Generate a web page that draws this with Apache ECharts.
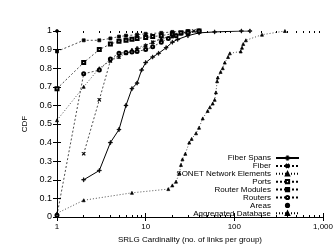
<!DOCTYPE html>
<html><head><meta charset="utf-8">
<script src="https://cdn.jsdelivr.net/npm/echarts@6/dist/echarts.min.js"></script>
<style>html,body{margin:0;padding:0;background:#fff}#c{width:333px;height:244px}</style>
</head><body><div id="c"></div>
<script>
// ---- data (x = SRLG cardinality, y = CDF) ----
const fiberSpans = [[2,0.20],[3,0.25],[4,0.40],[5,0.47],[6,0.60],[7,0.69],[8,0.72],[9,0.79],[10,0.83],[12,0.86],[14,0.88],[17,0.91],[20,0.94],[23,0.955],[30,0.975],[40,0.99],[60,0.995],[120,1.0],[150,1.0]];
const fiber = [[2,0.34],[3,0.63],[4,0.84],[5,0.87],[6,0.88],[8,0.90],[10,0.92],[12,0.94],[15,0.96],[20,0.975],[25,0.99],[35,1.0]];
const sonet = [[1,0.52],[2,0.70],[3,0.80],[4,0.84],[5,0.86],[6,0.88],[7,0.90],[8,0.91],[10,0.925],[12,0.94],[15,0.955],[20,0.97],[25,0.985],[30,0.99],[40,1.0]];
const ports = [[1,0.69],[2,0.83],[3,0.90],[4,0.93],[5,0.945],[6,0.95],[7,0.955],[8,0.96],[10,0.965],[12,0.97],[15,0.975],[20,0.985],[25,0.99],[30,0.995],[40,1.0]];
const routerModules = [[1,0.89],[2,0.95],[3,0.95],[4,0.96],[5,0.97],[6,0.975],[8,0.98],[10,0.985],[15,0.99],[20,0.995],[30,1.0]];
const routers = [[1,0.01],[2,0.77],[3,0.79],[4,0.85],[5,0.88],[6,0.885],[7,0.887],[8,0.89],[10,0.90],[12,0.915],[15,0.94],[18,0.96],[22,0.975],[30,0.99],[40,1.0]];
const areas = [[1,1.0]];
const aggregated = [[1,0.02],[2,0.09],[7,0.13],[18,0.15],[20,0.17],[22,0.19],[24,0.235],[25,0.28],[26,0.31],[28,0.34],[31,0.40],[33,0.42],[37,0.45],[40,0.48],[44,0.53],[50,0.57],[53,0.59],[57,0.61],[60,0.63],[62,0.67],[64,0.73],[65,0.75],[70,0.78],[74,0.80],[78,0.83],[85,0.86],[89,0.88],[118,0.89],[122,0.91],[126,0.93],[135,0.95],[205,0.98],[372,1.0]];

const seriesNames = ['Fiber Spans','Fiber','SONET Network Elements','Ports','Router Modules','Routers','Areas','Aggregated Database'];
const xTickLabels = [1,10,100,1000];
const yTickLabels = [0,0.1,0.2,0.3,0.4,0.5,0.6,0.7,0.8,0.9,1];
const xMinorTicks = [2,3,4,5,6,7,8,9,20,30,40,50,60,70,80,90,200,300,400,500,600,700,800,900];

const FONT = 'Liberation Sans';
const plusPath = 'path://M4.3,0H5.7V4.3H10V5.7H5.7V10H4.3V5.7H0V4.3H4.3Z';
const blk = '#000';

function lineSeries(name, data, dash, symbol, size, rot, width) {
  return {
    type: 'line', name, data, xAxisIndex: 0, yAxisIndex: 0,
    symbol, symbolSize: size, symbolRotate: rot || 0, showSymbol: true,
    lineStyle: { color: blk, width: width || 0.7, type: dash },
    itemStyle: { color: blk, borderColor: blk, borderWidth: 0.7 },
    emphasis: { disabled: true }, animation: false, z: 3
  };
}

const minorLog = xMinorTicks.map(v => Math.log10(v));
const areasSeries = lineSeries(seriesNames[6], areas, 'solid', 'circle', 3);
areasSeries.lineStyle.opacity = 0;

const option = {
  animation: false,
  backgroundColor: '#fff',
  grid: { left: 57, right: 10, top: 31, bottom: 27, containLabel: false, outerBoundsMode: 'none' },
  legend: {
    orient: 'vertical', right: 28, top: 149, align: 'right',
    itemWidth: 23, itemHeight: 4, itemGap: -0.1,
    textStyle: { fontSize: 8, fontFamily: FONT, color: blk, lineHeight: 8 },
    data: seriesNames
  },
  xAxis: [
    { type: 'log', logBase: 10, min: xTickLabels[0], max: xTickLabels[xTickLabels.length-1], position: 'bottom',
      name: 'SRLG Cardinality (no. of links per group)', nameLocation: 'middle', nameGap: 13,
      nameTextStyle: { fontSize: 8, fontFamily: FONT, color: blk },
      axisLine: { show: true, lineStyle: { color: blk, width: 1 } },
      axisTick: { show: true, inside: true, length: 4, lineStyle: { color: blk } },
      axisLabel: { fontSize: 8, fontFamily: FONT, color: blk, margin: 6 },
      splitLine: { show: false }, minorTick: { show: false } },
    { type: 'log', logBase: 10, min: 1, max: 1000, position: 'top',
      axisLine: { show: true, lineStyle: { color: blk, width: 1 } },
      axisTick: { show: true, inside: true, length: 4, lineStyle: { color: blk } },
      axisLabel: { show: false }, splitLine: { show: false } },
    { type: 'value', min: 0, max: 3, position: 'bottom',
      axisLine: { show: false },
      axisTick: { show: true, inside: true, length: 2, customValues: minorLog, lineStyle: { color: blk } },
      axisLabel: { show: false }, splitLine: { show: false } },
    { type: 'value', min: 0, max: 3, position: 'top',
      axisLine: { show: false },
      axisTick: { show: true, inside: true, length: 2, customValues: minorLog, lineStyle: { color: blk } },
      axisLabel: { show: false }, splitLine: { show: false } }
  ],
  yAxis: [
    { type: 'value', min: 0, max: 1, interval: 0.1, position: 'left',
      name: 'CDF', nameLocation: 'middle', nameGap: 26, nameRotate: 90,
      nameTextStyle: { fontSize: 8, fontFamily: FONT, color: blk },
      axisLine: { show: true, lineStyle: { color: blk, width: 1 } },
      axisTick: { show: true, inside: true, length: 4, lineStyle: { color: blk } },
      axisLabel: { fontSize: 9, fontFamily: FONT, color: blk, margin: 5,
        formatter: v => String(Math.round(v*10)/10) },
      splitLine: { show: false } },
    { type: 'value', min: 0, max: 1, interval: 0.1, position: 'right',
      axisLine: { show: true, lineStyle: { color: blk, width: 1 } },
      axisTick: { show: true, inside: true, length: 4, lineStyle: { color: blk } },
      axisLabel: { show: false }, splitLine: { show: false } }
  ],
  series: [
    lineSeries(seriesNames[0], fiberSpans, 'solid', plusPath, 4, 0, 1),
    lineSeries(seriesNames[1], fiber, [2,2], plusPath, 4, 45),
    lineSeries(seriesNames[2], sonet, [1,2], 'triangle', 3),
    lineSeries(seriesNames[3], ports, [2,2], 'emptyRect', 3),
    lineSeries(seriesNames[4], routerModules, [2,2], 'rect', 3),
    lineSeries(seriesNames[5], routers, [2,2], 'emptyCircle', 3),
    areasSeries,
    lineSeries(seriesNames[7], aggregated, [1,2], 'triangle', 3)
  ]
};
const chart = echarts.init(document.getElementById('c'), null, { renderer: 'canvas' });
chart.setOption(option);
</script></body></html>
